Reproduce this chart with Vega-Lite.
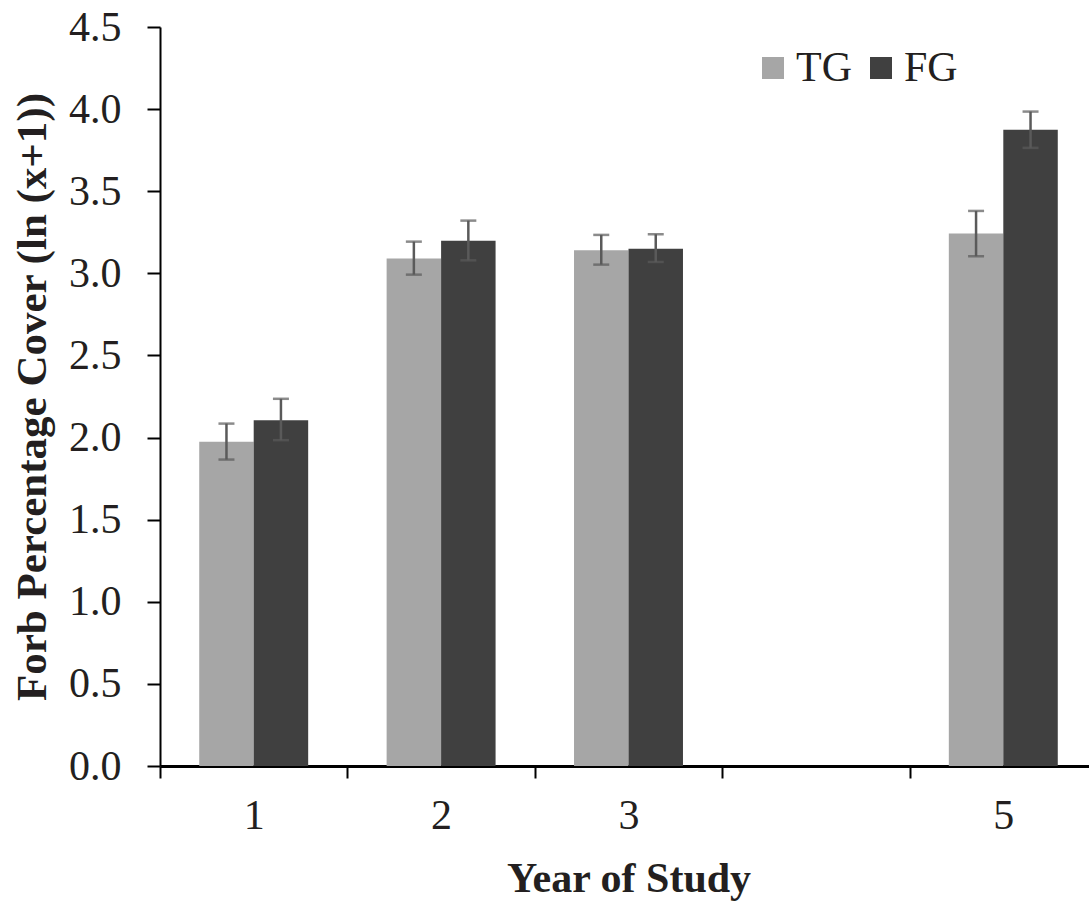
{
  "$schema": "https://vega.github.io/schema/vega-lite/v6.json",
  "autosize": "none",
  "width": 937,
  "height": 739,
  "padding": {"left": 160, "top": 27, "right": 0, "bottom": 135},
  "background": "white",
  "config": {
    "font": "Liberation Serif",
    "view": {"stroke": null},
    "axis": {"grid": false, "domainColor": "black", "tickColor": "black", "labelColor": "#231f20", "titleColor": "#231f20", "labelFont": "Liberation Serif", "titleFont": "Liberation Serif"}
  },
  "data": {
    "values": [
      {"year": "1", "group": "TG", "mean": 1.974, "lo": 1.866, "hi": 2.085},
      {"year": "1", "group": "FG", "mean": 2.106, "lo": 1.984, "hi": 2.236},
      {"year": "2", "group": "TG", "mean": 3.09, "lo": 2.992, "hi": 3.193},
      {"year": "2", "group": "FG", "mean": 3.199, "lo": 3.079, "hi": 3.321},
      {"year": "3", "group": "TG", "mean": 3.14, "lo": 3.053, "hi": 3.234},
      {"year": "3", "group": "FG", "mean": 3.15, "lo": 3.069, "hi": 3.238},
      {"year": "5", "group": "TG", "mean": 3.242, "lo": 3.104, "hi": 3.38},
      {"year": "5", "group": "FG", "mean": 3.874, "lo": 3.764, "hi": 3.985}
    ]
  },
  "encoding": {
    "x": {
      "field": "year", "type": "nominal",
      "scale": {"domain": ["1", "2", "3", "4", "5"], "paddingInner": 0, "paddingOuter": 0},
      "axis": {
        "title": "Year of Study", "titleFontSize": 42, "titleFontWeight": "bold", "titlePadding": 22,
        "labelAngle": 0, "labelFontSize": 42, "labelPadding": 17,
        "labelExpr": "datum.label == '4' ? '' : datum.label",
        "tickBand": "extent", "tickSize": 12, "tickWidth": 2, "domainWidth": 3
      }
    },
    "xOffset": {"field": "group", "type": "nominal", "scale": {"domain": ["TG", "FG"], "paddingInner": 0, "paddingOuter": 0.72}}
  },
  "layer": [
    {
      "mark": {"type": "bar"},
      "encoding": {
        "y": {
          "field": "mean", "type": "quantitative",
          "scale": {"domain": [0, 4.5], "nice": false},
          "axis": {
            "title": "Forb Percentage Cover (ln (x+1))", "titleFontSize": 43, "titleFontWeight": "bold", "titlePadding": 14,
            "values": [0, 0.5, 1, 1.5, 2, 2.5, 3, 3.5, 4, 4.5], "format": ".1f",
            "labelFontSize": 42, "labelPadding": 26, "tickSize": 13, "tickWidth": 2, "domainWidth": 2
          }
        },
        "color": {
          "field": "group", "type": "nominal",
          "scale": {"domain": ["TG", "FG"], "range": ["#a6a6a6", "#404040"]},
          "legend": {
            "title": null, "orient": "none", "legendX": 592, "legendY": 20, "direction": "horizontal",
            "symbolType": "square", "symbolSize": 484, "symbolStrokeWidth": 0, "symbolOpacity": 1,
            "labelFontSize": 42, "labelFont": "Liberation Serif", "labelColor": "#231f20", "columnPadding": 8, "labelOffset": 2
          }
        }
      }
    },
    {
      "mark": {"type": "rule", "color": "#5a5a5a", "strokeWidth": 2.5},
      "encoding": {
        "y": {"field": "lo", "type": "quantitative"},
        "y2": {"field": "hi"}
      }
    },
    {
      "mark": {"type": "tick", "color": "#5a5a5a", "thickness": 2.5, "size": 16, "orient": "horizontal"},
      "encoding": {"y": {"field": "lo", "type": "quantitative"}}
    },
    {
      "mark": {"type": "tick", "color": "#5a5a5a", "thickness": 2.5, "size": 16, "orient": "horizontal"},
      "encoding": {"y": {"field": "hi", "type": "quantitative"}}
    }
  ]
}
